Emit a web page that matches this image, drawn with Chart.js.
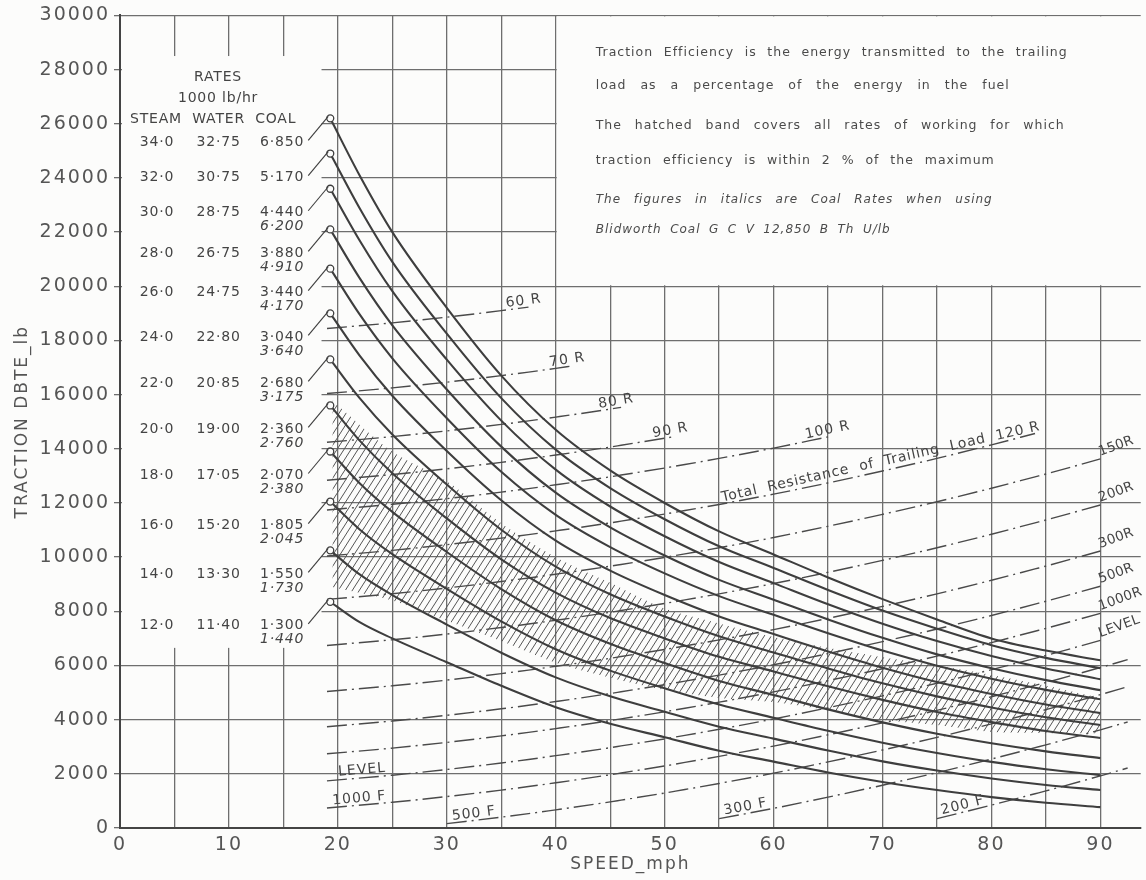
<!DOCTYPE html>
<html>
<head>
<meta charset="utf-8">
<script src="https://cdn.jsdelivr.net/npm/chart.js@4.4.1/dist/chart.umd.min.js"></script>
<style>
  html, body { margin: 0; padding: 0; background: #fcfcfb; }
</style>
</head>
<body>
<canvas id="traction" width="1146" height="880"></canvas>
<script>
// rates table (1000 lb/hr)
const steamRates = ['34·0', '32·0', '30·0', '28·0', '26·0', '24·0', '22·0', '20·0', '18·0', '16·0', '14·0', '12·0'];
const waterRates = ['32·75', '30·75', '28·75', '26·75', '24·75', '22·80', '20·85', '19·00', '17·05', '15·20', '13·30', '11·40'];
const coalRates = ['6·850', '5·170', '4·440', '3·880', '3·440', '3·040', '2·680', '2·360', '2·070', '1·805', '1·550', '1·300'];
const coalItalic = ['', '', '6·200', '4·910', '4·170', '3·640', '3·175', '2·760', '2·380', '2·045', '1·730', '1·440'];

// drawbar tractive effort (lb) for each steam rate, read at these speeds (mph)
const curveSpeeds = [19.3, 22, 25, 30, 35, 40, 45, 50, 55, 60, 65, 70, 75, 80, 85, 90];
const te34 = [26200, 24090, 22000, 19200, 16700, 14700, 13200, 12000, 10950, 10100, 9250, 8450, 7700, 7000, 6550, 6190];
const te32 = [24900, 22880, 20900, 18250, 15870, 13970, 12550, 11400, 10400, 9600, 8790, 8030, 7360, 6750, 6280, 5900];
const te30 = [23600, 21690, 19820, 17290, 15040, 13230, 11870, 10770, 9820, 9040, 8260, 7540, 6900, 6350, 5890, 5490];
const te28 = [22100, 20300, 18560, 16190, 14080, 12380, 11100, 10060, 9160, 8430, 7700, 7020, 6410, 5900, 5460, 5090];
const te26 = [20650, 18960, 17340, 15130, 13150, 11560, 10370, 9400, 8560, 7870, 7190, 6550, 5990, 5510, 5100, 4750];
const te24 = [19000, 17440, 15960, 13920, 12100, 10610, 9500, 8600, 7810, 7160, 6520, 5920, 5390, 4950, 4560, 4240];
const te22 = [17300, 15870, 14530, 12680, 11010, 9650, 8630, 7810, 7080, 6480, 5890, 5340, 4860, 4450, 4090, 3800];
const te20 = [15600, 14300, 13100, 11430, 9920, 8690, 7750, 7000, 6320, 5780, 5230, 4730, 4280, 3910, 3580, 3320];
const te18 = [13900, 12730, 11670, 10190, 8820, 7670, 6800, 6090, 5430, 4910, 4380, 3900, 3480, 3130, 2830, 2580];
const te16 = [12050, 11020, 10110, 8830, 7630, 6600, 5810, 5160, 4560, 4070, 3590, 3150, 2770, 2440, 2170, 1950];
const te14 = [10250, 9360, 8600, 7510, 6470, 5560, 4860, 4290, 3740, 3300, 2860, 2460, 2120, 1830, 1590, 1400];
const te12 = [8350, 7600, 7000, 6120, 5250, 4460, 3850, 3350, 2850, 2450, 2050, 1700, 1400, 1140, 930, 770];
const curves = [te34, te32, te30, te28, te26, te24, te22, te20, te18, te16, te14, te12];

// trailing load resistance: level track, and each gradient line's height above it
const gradeSpeeds = [19, 25, 30, 35, 37.5, 40, 41.5, 45, 46, 50, 51, 55, 60, 65, 70, 75, 80, 84, 85, 90, 92.5];
const levelResistance = [1740, 1950, 2160, 2400, 2530, 2670, 2755, 2965, 3030, 3290, 3360, 3645, 4025, 4440, 4880, 5345, 5845, 6265, 6370, 6925, 7215];
const gradeLabels = ['60 R', '70 R', '80 R', '90 R', '100 R', '120 R', '150R', '200R', '300R', '500R', '1000R', 'LEVEL', '1000 F', '500 F', '300 F', '200 F'];
const gradeOffset = [16700, 14300, 12500, 11100, 10000, 8300, 6700, 5000, 3300, 2000, 1000, 0, -1000, -2000, -3300, -5000];
const gradeFrom = [19, 19, 19, 19, 19, 19, 19, 19, 19, 19, 19, 19, 19, 30, 55, 75];
const gradeTo = [37.5, 41.5, 46, 51, 65, 84, 90, 90, 90, 90, 90, 90, 92.5, 92.5, 92.5, 92.5];
const gradeLabelAt = ['end', 'end', 'end', 'end', 'end', 'along', 'right', 'right', 'right', 'right', 'right', 'both', 'start', 'start', 'start', 'start'];

// hatched band: within 2% of maximum traction efficiency
const bandSpeeds = [19.5, 20, 25, 30, 35, 40, 45, 50, 55, 60, 65, 70, 75, 80, 85, 90];
const bandUpper = [15800, 15600, 13900, 12800, 11250, 10000, 9050, 8100, 7550, 7050, 6650, 6300, 6000, 5650, 5250, 4800];
const bandLower = [8900, 8850, 8400, 7650, 6900, 6100, 5550, 5100, 4800, 4650, 4350, 4000, 3800, 3550, 3500, 3500];

const ink = '#3e3e3e';
const gridInk = '#6e6e6e';
const paper = '#fcfcfb';
const face = 'DejaVu Sans';

function makeHatch() {
  const c = document.createElement('canvas');
  c.width = 7; c.height = 11;
  const g = c.getContext('2d');
  g.strokeStyle = '#555';
  g.lineWidth = 1;
  g.beginPath();
  g.moveTo(-1, 12.6); g.lineTo(8, -1.6);
  g.moveTo(-1, 1.6); g.lineTo(1, -1.6);
  g.moveTo(6, 12.6); g.lineTo(8, 9.4);
  g.stroke();
  return g.createPattern(c, 'repeat');
}

const datasets = [];
curves.forEach((vals, i) => {
  datasets.push({
    label: 'Steam ' + steamRates[i],
    data: curveSpeeds.map((s, j) => ({ x: s, y: vals[j] })),
    borderColor: ink,
    borderWidth: 2.1,
    cubicInterpolationMode: 'monotone',
    pointRadius: c => c.dataIndex === 0 ? 3.5 : 0,
    pointBackgroundColor: paper,
    pointBorderColor: ink,
    pointBorderWidth: 1.3,
    order: 1
  });
});
const gradeStart = datasets.length;
gradeLabels.forEach((lab, i) => {
  const pts = [];
  gradeSpeeds.forEach((s, j) => {
    if (s >= gradeFrom[i] && s <= gradeTo[i]) pts.push({ x: s, y: levelResistance[j] + gradeOffset[i] });
  });
  datasets.push({
    label: lab,
    data: pts,
    borderColor: '#4a4a4a',
    borderWidth: 1.4,
    borderDash: [20, 5, 2, 5],
    cubicInterpolationMode: 'monotone',
    pointRadius: 0,
    order: 2
  });
});
datasets.push({
  label: 'band',
  data: bandSpeeds.map((s, j) => ({ x: s, y: bandUpper[j] })),
  borderWidth: 0,
  pointRadius: 0,
  tension: 0.3,
  fill: '+1',
  backgroundColor: makeHatch(),
  order: 3
});
datasets.push({
  label: 'band low',
  data: bandSpeeds.map((s, j) => ({ x: s, y: bandLower[j] })),
  borderWidth: 0,
  pointRadius: 0,
  tension: 0.3,
  fill: false,
  order: 3
});

function rotText(ctx, text, x, y, angle, dx, dy) {
  ctx.save();
  ctx.translate(x, y);
  ctx.rotate(angle);
  ctx.fillText(text, dx, dy);
  ctx.restore();
}

function justify(ctx, text, x, y, width) {
  const words = text.split(' ');
  let used = 0;
  words.forEach(w => used += ctx.measureText(w).width);
  const gap = words.length > 1 ? (width - used) / (words.length - 1) : 0;
  let cx = x;
  words.forEach(w => { ctx.fillText(w, cx, y); cx += ctx.measureText(w).width + gap; });
}

const paperPlugin = {
  id: 'paper',
  beforeDraw(chart) {
    const ctx = chart.ctx;
    ctx.fillStyle = paper;
    ctx.fillRect(0, 0, chart.width, chart.height);
    // the draughtsman's lettering is widely spaced
    ctx.letterSpacing = '2px';
  }
};

const blanks = {
  id: 'blanks',
  beforeDatasetsDraw(chart) {
    const { ctx, chartArea, scales: { x, y } } = chart;
    ctx.save();
    ctx.fillStyle = paper;
    // rates table
    ctx.fillRect(x.getPixelForValue(0) + 2, y.getPixelForValue(28500), x.getPixelForValue(18.5) - x.getPixelForValue(0) - 2, y.getPixelForValue(6650) - y.getPixelForValue(28500));
    // notes box
    ctx.fillRect(x.getPixelForValue(40) + 1, chartArea.top + 1, chartArea.right - x.getPixelForValue(40), y.getPixelForValue(20000) - chartArea.top - 2);
    ctx.restore();
  }
};

const notes = {
  id: 'notes',
  afterDatasetsDraw(chart) {
    const { ctx, scales: { x, y } } = chart;
    ctx.save();
    ctx.fillStyle = '#444';
    ctx.strokeStyle = ink;
    ctx.textBaseline = 'middle';
    ctx.letterSpacing = '0.8px';

    // table header
    ctx.font = '14px ' + face;
    ctx.textAlign = 'center';
    ctx.fillText('RATES', x.getPixelForValue(9), y.getPixelForValue(27700));
    ctx.fillText('1000 lb/hr', x.getPixelForValue(9), y.getPixelForValue(26950));
    ctx.fillText('STEAM', x.getPixelForValue(3.3), y.getPixelForValue(26150));
    ctx.fillText('WATER', x.getPixelForValue(9.05), y.getPixelForValue(26150));
    ctx.fillText('COAL', x.getPixelForValue(14.3), y.getPixelForValue(26150));

    // table rows with leaders to the curve start markers
    steamRates.forEach((s, i) => {
      const m = chart.getDatasetMeta(i).data[0];
      const ry = m.y + 24;
      ctx.font = '14px ' + face;
      ctx.textAlign = 'center';
      ctx.fillText(s, x.getPixelForValue(3.4), ry);
      ctx.fillText(waterRates[i], x.getPixelForValue(9.05), ry);
      ctx.textAlign = 'right';
      ctx.fillText(coalRates[i], x.getPixelForValue(16.9), ry);
      if (coalItalic[i]) {
        ctx.font = 'italic 14px ' + face;
        ctx.fillText(coalItalic[i], x.getPixelForValue(16.9), ry + 14);
      }
      ctx.lineWidth = 1.1;
      ctx.beginPath();
      ctx.moveTo(m.x - 2, m.y - 2);
      ctx.lineTo(m.x - 22, m.y + 22);
      ctx.stroke();
    });

    // resistance line labels
    ctx.textBaseline = 'alphabetic';
    ctx.textAlign = 'left';
    ctx.font = '14px ' + face;
    ctx.letterSpacing = '1px';
    gradeLabels.forEach((lab, i) => {
      const pts = chart.getDatasetMeta(gradeStart + i).data;
      const first = pts[0], second = pts[1];
      const last = pts[pts.length - 1], prev = pts[pts.length - 2];
      const a0 = Math.atan2(second.y - first.y, second.x - first.x);
      const a1 = Math.atan2(last.y - prev.y, last.x - prev.x);
      const kind = gradeLabelAt[i];
      if (kind === 'end') {
        rotText(ctx, lab, last.x, last.y, a1, -22, -3);
      } else if (kind === 'right' || kind === 'both') {
        ctx.font = '13.5px ' + face;
        ctx.letterSpacing = '0.3px';
        rotText(ctx, lab, last.x, last.y, a1 * 1.3, 1, -3);
        ctx.font = '14px ' + face;
        ctx.letterSpacing = '1px';
        if (kind === 'both') rotText(ctx, lab, first.x, first.y, a0, 12, -4);
      } else if (kind === 'start') {
        rotText(ctx, lab, first.x, first.y, a0, 6, -3);
      } else if (kind === 'along') {
        const from = pts[gradeSpeeds.indexOf(55) - gradeSpeeds.indexOf(gradeFrom[i])];
        const ang = Math.atan2(last.y - from.y, last.x - from.x);
        ctx.letterSpacing = '0.8px';
        rotText(ctx, 'Total  Resistance  of  Trailing  Load  ' + lab, from.x + 4, from.y, ang, 0, -3);
        ctx.letterSpacing = '1px';
      }
    });

    // notes box
    const bx = x.getPixelForValue(40) + 40;
    const top = y.getPixelForValue(30000);
    ctx.fillStyle = '#4a4a4a';
    ctx.letterSpacing = '1px';
    ctx.font = '12.5px ' + face;
    justify(ctx, 'Traction Efficiency is the energy transmitted to the trailing', bx, top + 41, 472);
    justify(ctx, 'load as a percentage of the energy in the fuel', bx, top + 74, 414);
    justify(ctx, 'The hatched band covers all rates of working for which', bx, top + 114, 469);
    justify(ctx, 'traction efficiency is within 2 % of the maximum', bx, top + 149, 399);
    ctx.font = 'italic 12px ' + face;
    justify(ctx, 'The figures in italics are Coal Rates when using', bx, top + 188, 397);
    justify(ctx, 'Blidworth Coal G C V 12,850 B Th U/lb', bx, top + 218, 295);
    ctx.restore();
  }
};

new Chart(document.getElementById('traction'), {
  type: 'line',
  data: { datasets: datasets },
  options: {
    responsive: false,
    animation: false,
    parsing: false,
    layout: { padding: { top: 15, right: 0, left: 0, bottom: 0 } },
    plugins: { legend: { display: false }, tooltip: { enabled: false } },
    scales: {
      x: {
        type: 'linear',
        min: 0,
        max: 93.7,
        ticks: {
          stepSize: 5,
          includeBounds: false,
          autoSkip: false,
          maxRotation: 0,
          padding: 6,
          color: '#555',
          font: { family: face, size: 19 },
          callback: v => v % 10 === 0 ? String(v) : ''
        },
        grid: { color: gridInk, lineWidth: 1.3, drawTicks: false },
        border: { color: '#444', width: 2 },
        title: { display: true, text: 'SPEED_mph', color: '#555', font: { family: face, size: 17 }, padding: { top: 0, bottom: 5 } },
        afterFit: s => { s.height = 52; }
      },
      y: {
        type: 'linear',
        min: 0,
        max: 30000,
        ticks: { stepSize: 2000, padding: 4, color: '#555', font: { family: face, size: 19 }, callback: v => String(v) },
        grid: { color: gridInk, lineWidth: 1.3, tickLength: 6 },
        border: { color: '#444', width: 2 },
        title: { display: true, text: 'TRACTION DBTE_lb', color: '#555', font: { family: face, size: 17 }, padding: { top: 12, bottom: 0 } },
        afterFit: s => { s.width = 120; }
      }
    }
  },
  plugins: [paperPlugin, blanks, notes]
});
</script>
</body>
</html>
